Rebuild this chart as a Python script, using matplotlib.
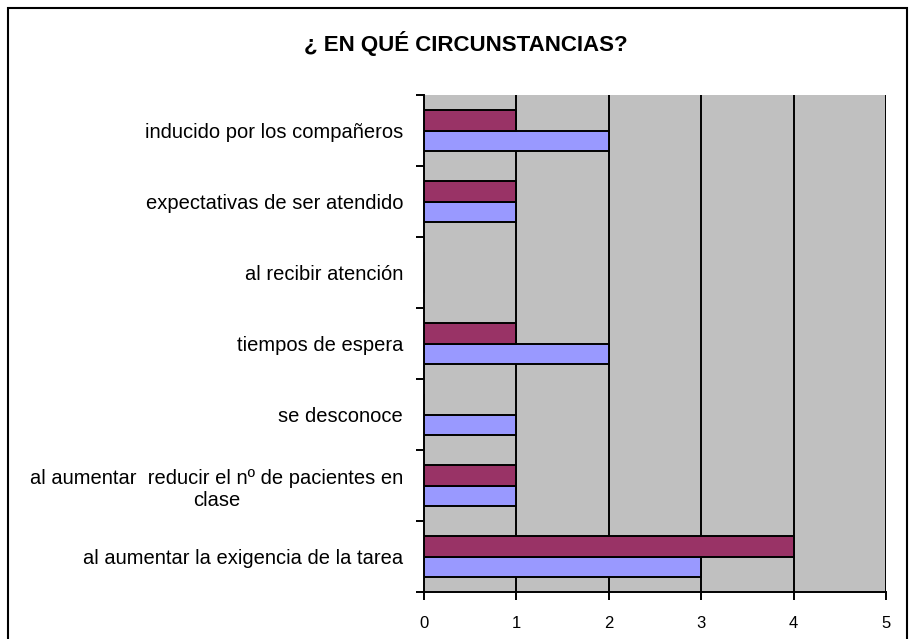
import matplotlib.pyplot as plt
import numpy as np
from matplotlib.patches import Rectangle

plt.rcParams['font.family'] = ['Liberation Sans', 'DejaVu Sans']

# Categories (bottom to top) and values
categorias = [
    "al aumentar la exigencia de la tarea",
    "al aumentar  reducir el nº de pacientes en\nclase",
    "se desconoce",
    "tiempos de espera",
    "al recibir atención",
    "expectativas de ser atendido",
    "inducido por los compañeros",
]
serie_azul = [3, 1, 1, 2, 0, 1, 2]
serie_granate = [4, 1, 0, 1, 0, 1, 1]
x_ticks = [0, 1, 2, 3, 4, 5]

fig = plt.figure(figsize=(9.16, 6.39), dpi=100)
ax = fig.add_axes([424 / 916, 1 - 592 / 639, 462 / 916, 497 / 639])

y = np.arange(len(categorias))
h = 0.285
ax.barh(y - h / 2, serie_azul, height=h, color='#9999FF', edgecolor='black', linewidth=1.4, zorder=3)
ax.barh(y + h / 2, serie_granate, height=h, color='#993366', edgecolor='black', linewidth=1.4, zorder=3)

ax.set_facecolor('#C0C0C0')
ax.set_xlim(0, 5)
ax.set_ylim(-0.5, len(categorias) - 0.5)
ax.set_xticks(x_ticks)
ax.tick_params(axis='x', labelsize=12, length=6, width=1.4, pad=11)
for v in x_ticks[1:]:
    ax.axvline(v, color='black', linewidth=1.4, zorder=2)

# category labels, ticks on the boundaries
ax.set_yticks(y)
ax.set_yticklabels(categorias, fontsize=14.5, ha='right', ma='center')
ax.tick_params(axis='y', length=0, pad=15)
ax.set_yticks(np.arange(len(categorias) + 1) - 0.5, minor=True)
ax.tick_params(axis='y', which='minor', length=6, width=1.4)

for s in ['top', 'right']:
    ax.spines[s].set_visible(False)
ax.spines['left'].set_linewidth(1.4)
ax.spines['bottom'].set_linewidth(1.4)

fig.text(466 / 916, 1 - 43 / 639, "¿ EN QUÉ CIRCUNSTANCIAS?", ha='center', va='center',
         fontsize=16, fontweight='bold')

fig.patches.append(Rectangle((8 / 916, -0.01), 899 / 916, 1 - 8 / 639 + 0.01,
                             transform=fig.transFigure, fill=False, edgecolor='black', linewidth=1.5))

fig.savefig('out.png', dpi=100)
